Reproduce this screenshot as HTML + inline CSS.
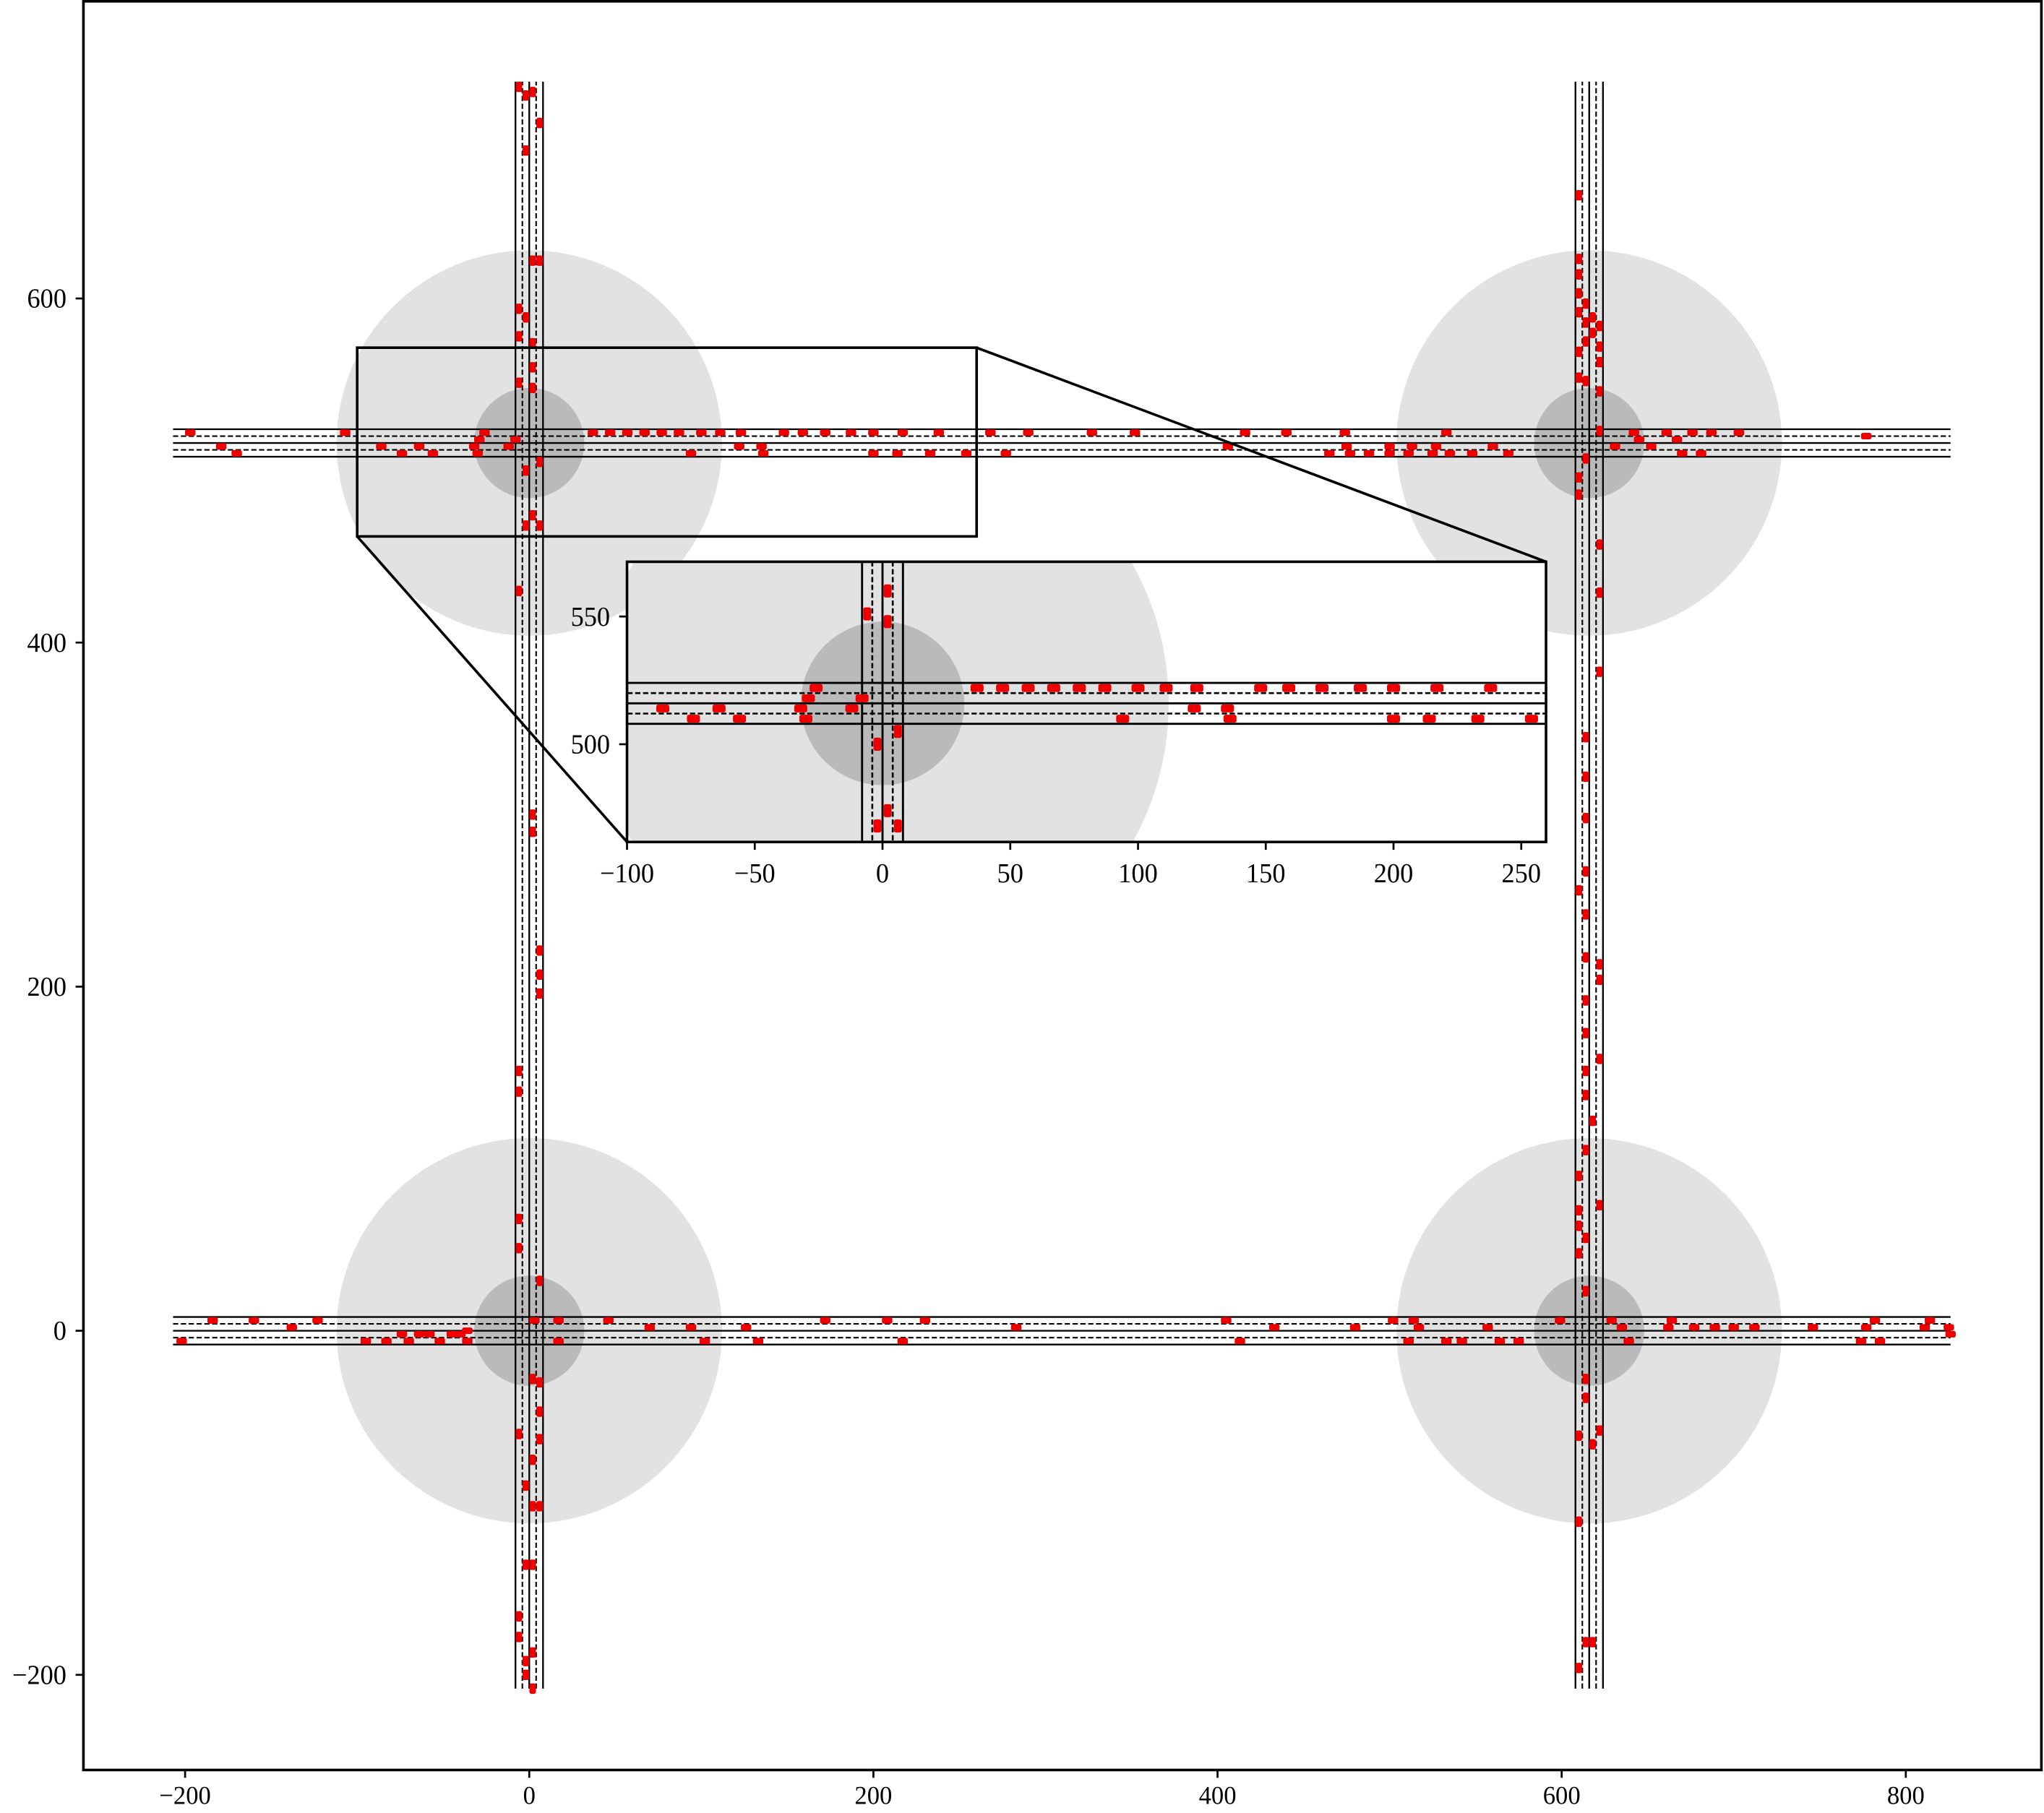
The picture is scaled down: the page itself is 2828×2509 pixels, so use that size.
<!DOCTYPE html>
<html><head><meta charset="utf-8"><style>
html,body{margin:0;padding:0;background:#fff;overflow:hidden;width:2828px;height:2509px;}
svg{display:block;position:absolute;left:0;top:0;overflow:hidden;}
text{font-family:"Liberation Serif",serif;fill:#000;}
</style></head><body>
<svg id="chart" width="2828" height="2509" viewBox="0 0 1568 1391" preserveAspectRatio="none" xmlns="http://www.w3.org/2000/svg">
<defs>
<clipPath id="mainClip"><rect x="64" y="1" width="1502" height="1357"/></clipPath>
<clipPath id="insetClip"><rect x="481" y="431" width="705" height="215"/></clipPath>
</defs>
<rect x="0" y="0" width="1568" height="1391" fill="#fff"/>
<g id="mainPlot" clip-path="url(#mainClip)"></g>
<g id="mainAxes"></g>
<g id="zoomLinks"></g>
<rect x="481" y="431" width="705" height="215" fill="#fff"/>
<g id="insetPlot" clip-path="url(#insetClip)"></g>
<g id="insetAxes"></g>
</svg>
<script>
// Intersections (data units)
const intersectionX = [0, 616, 0, 616];
const intersectionY = [0, 0, 516, 516];
const outerRadius = 112;
const innerRadius = 32;
const roadYs = [0, 516];
const roadXs = [0, 616];
const roadXExtent = [-207, 826];
const roadYExtent = [-208, 726];
const laneOffsets = [-8, 0, 8];
const dashOffsets = [-4, 4];
// Vehicles on horizontal road y=0
const h0X = [-202,-184,-160,-138,-123,-95,-83,-74,-70,-64,-58,-52,-45,-40,-36,-36,3,17,17,46,70,94,102,126,133,172,208,217,230,283,405,413,433,480,502,514,517,511,533,542,557,564,575,599,629,635,639,662,664,677,689,700,712,746,774,777,782,785,811,814,825,826];
const h0Lane = [-6,6,6,2,6,-6,-6,-2,-6,-2,-2,-6,-2,-2,0,-6,6,6,-6,6,2,2,-6,2,-6,6,6,-6,6,2,6,-6,2,2,6,6,2,-6,-6,-6,2,-6,-6,6,6,2,-6,2,6,2,2,2,2,2,-6,2,6,-6,2,6,2,-2];
// Vehicles on horizontal road y=516
const h1X = [-197,-179,-170,-107,-86,-74,-64,-56,-32,-30,-29,-26,-12,-8,37,47,57,67,77,87,94,100,111,122,123,135,136,148,159,172,187,200,200,214,217,233,238,254,268,277,290,327,352,406,416,440,465,474,475,477,488,500,500,511,513,525,527,533,535,548,560,569,631,642,645,652,661,667,670,676,681,687,703,777];
const h1Lane = [6,-2,-6,6,-2,-6,-2,-6,-2,-6,2,6,-2,2,6,6,6,6,6,6,-6,6,6,-2,6,-2,-6,6,6,6,6,-6,6,-6,6,-6,6,-6,6,-6,6,6,6,-2,6,6,-6,6,-2,-6,-6,-2,-6,-6,-2,-6,-2,6,-6,-6,-2,-6,-2,6,2,-2,6,2,-6,6,-6,6,6,4];
// Vehicles on vertical road x=0
const v0Y = [723,720,718,702,686,622,622,594,589,578,574,560,551,548,505,500,474,468,468,430,300,290,221,207,196,151,139,65,48,29,-28,-30,-47,-60,-63,-75,-90,-102,-102,-136,-136,-166,-178,-187,-192,-200,-208];
const v0Lane = [-6,2,-2,6,-2,2,6,-6,-2,-6,2,2,-6,2,6,-2,2,-2,6,-6,2,2,6,6,6,-6,-6,-6,-6,6,2,6,6,-6,6,2,-2,2,6,2,-2,-6,-6,2,-2,-2,2];
// Vehicles on vertical road x=616
const v1Y = [660,623,614,603,597,592,589,586,584,580,575,572,569,563,554,552,546,523,507,496,486,457,429,383,345,322,298,267,256,242,217,213,204,192,173,158,151,137,122,105,90,73,70,61,54,45,23,-28,-39,-58,-61,-66,-111,-181,-181,-196];
const v1Lane = [-6,-6,-6,-6,-2,-6,2,-2,6,2,-2,6,-6,6,-6,-2,6,6,-2,-6,-6,6,6,6,-2,-2,-2,-2,-6,-2,-2,6,6,-2,-2,6,-2,-2,2,-2,-6,6,-6,-6,-2,-6,-2,-2,-2,6,-6,2,-6,-2,2,-6];
// Tick labels
const mainXTicks = [-200, 0, 200, 400, 600, 800];
const mainYTicks = [-200, 0, 200, 400, 600];
const insetXTicks = [-100, -50, 0, 50, 100, 150, 200, 250];
const insetYTicks = [500, 550];

const NS = "http://www.w3.org/2000/svg";
function mk(parent, tag, attrs){
  const el = document.createElementNS(NS, tag);
  for (const k in attrs) el.setAttribute(k, attrs[k]);
  parent.appendChild(el);
  return el;
}
function fmt(v){ return v < 0 ? "\u2212" + Math.abs(v) : String(v); }

const main = {X: v => 406 + 1.32 * v, Y: v => 1021 - 1.32 * v, s: 1.32, mw: 8, mh: 5, lw: 1.3};
const inset = {X: v => 677 + 1.96 * v, Y: v => 571 - 1.96 * (v - 500), s: 1.96, mw: 10, mh: 6, lw: 1.6};

function drawScene(g, A){
  for (let i = 0; i < intersectionX.length; i++){
    const c = mk(g, "circle", {cx: A.X(intersectionX[i]), cy: A.Y(intersectionY[i]), r: outerRadius * A.s, fill: "#e2e2e2"});
    
    
  }
  for (let i = 0; i < intersectionX.length; i++){
    const c = mk(g, "circle", {cx: A.X(intersectionX[i]), cy: A.Y(intersectionY[i]), r: innerRadius * A.s, fill: "#bababa"});
    
    
  }
  roadYs.forEach(yc => {
    laneOffsets.forEach(o => {
      const l = mk(g, "line", {x1: A.X(roadXExtent[0]), x2: A.X(roadXExtent[1]), y1: A.Y(yc + o), y2: A.Y(yc + o), stroke: "#000", "stroke-width": A.lw});
      
      
    });
    dashOffsets.forEach(o => {
      const l = mk(g, "line", {x1: A.X(roadXExtent[0]), x2: A.X(roadXExtent[1]), y1: A.Y(yc + o), y2: A.Y(yc + o), stroke: "#000", "stroke-width": A.lw * 0.9, "stroke-dasharray": "4 2"});
      
      
    });
  });
  roadXs.forEach(xc => {
    laneOffsets.forEach(o => {
      const l = mk(g, "line", {x1: A.X(xc + o), x2: A.X(xc + o), y1: A.Y(roadYExtent[0]), y2: A.Y(roadYExtent[1]), stroke: "#000", "stroke-width": A.lw});
      
      
    });
    dashOffsets.forEach(o => {
      const l = mk(g, "line", {x1: A.X(xc + o), x2: A.X(xc + o), y1: A.Y(roadYExtent[0]), y2: A.Y(roadYExtent[1]), stroke: "#000", "stroke-width": A.lw * 0.9, "stroke-dasharray": "4 2"});
      
      
    });
  });
  function hv(xs, lanes, yc){
    xs.forEach((x, i) => {
      const r = mk(g, "rect", {x: A.X(x) - A.mw / 2, y: A.Y(yc + lanes[i]) - A.mh / 2, width: A.mw, height: A.mh, rx: 1.5, fill: "#ee0000"});
      
      
    });
  }
  function vv(ys, lanes, xc){
    ys.forEach((y, i) => {
      const r = mk(g, "rect", {x: A.X(xc + lanes[i]) - A.mh / 2, y: A.Y(y) - A.mw / 2, width: A.mh, height: A.mw, rx: 1.5, fill: "#ee0000"});
      
      
    });
  }
  hv(h0X, h0Lane, roadYs[0]);
  hv(h1X, h1Lane, roadYs[1]);
  vv(v0Y, v0Lane, roadXs[0]);
  vv(v1Y, v1Lane, roadXs[1]);
}

drawScene(document.getElementById("mainPlot"), main);
drawScene(document.getElementById("insetPlot"), inset);

// main axes
const ma = document.getElementById("mainAxes");
const frame = mk(ma, "rect", {x: 64, y: 1, width: 1502, height: 1357, fill: "none", stroke: "#000", "stroke-width": 2});


mainXTicks.forEach(v => {
  const t = mk(ma, "line", {x1: main.X(v), x2: main.X(v), y1: 1358, y2: 1364, stroke: "#000", "stroke-width": 1.5});
  
  
  const tx = mk(ma, "text", {x: main.X(v), y: 1384, "text-anchor": "middle", "font-size": 20});
  tx.textContent = fmt(v);
  
  
});
mainYTicks.forEach(v => {
  const t = mk(ma, "line", {x1: 58, x2: 64, y1: main.Y(v), y2: main.Y(v), stroke: "#000", "stroke-width": 1.5});
  
  
  const tx = mk(ma, "text", {x: 51, y: main.Y(v) + 7, "text-anchor": "end", "font-size": 21});
  tx.textContent = fmt(v);
  
  
});

// zoom indicator
const zl = document.getElementById("zoomLinks");
const zr = mk(zl, "rect", {x: main.X(-100), y: main.Y(571.4), width: main.X(260) - main.X(-100), height: main.Y(461.7) - main.Y(571.4), fill: "none", stroke: "#000", "stroke-width": 2});


const c1 = mk(zl, "line", {x1: main.X(-100), y1: main.Y(461.7), x2: 481, y2: 646, stroke: "#000", "stroke-width": 2});


const c2 = mk(zl, "line", {x1: main.X(260), y1: main.Y(571.4), x2: 1186, y2: 431, stroke: "#000", "stroke-width": 2});



// inset axes
const ia = document.getElementById("insetAxes");
const iframe = mk(ia, "rect", {x: 481, y: 431, width: 705, height: 215, fill: "none", stroke: "#000", "stroke-width": 2});


insetXTicks.forEach(v => {
  const t = mk(ia, "line", {x1: inset.X(v), x2: inset.X(v), y1: 646, y2: 652, stroke: "#000", "stroke-width": 1.5});
  
  
  const tx = mk(ia, "text", {x: inset.X(v), y: 677, "text-anchor": "middle", "font-size": 21});
  tx.textContent = fmt(v);
  
  
});
insetYTicks.forEach(v => {
  const t = mk(ia, "line", {x1: 475, x2: 481, y1: inset.Y(v), y2: inset.Y(v), stroke: "#000", "stroke-width": 1.5});
  
  
  const tx = mk(ia, "text", {x: 468, y: inset.Y(v) + 7, "text-anchor": "end", "font-size": 21});
  tx.textContent = fmt(v);
  
  
});
// slightly condense all tick labels to match the narrower reference font
document.querySelectorAll('text').forEach(t => {
  const w = t.getComputedTextLength();
  t.setAttribute('textLength', (w * 0.96).toFixed(1));
  t.setAttribute('lengthAdjust', 'spacingAndGlyphs');
});
</script>
</body></html>
